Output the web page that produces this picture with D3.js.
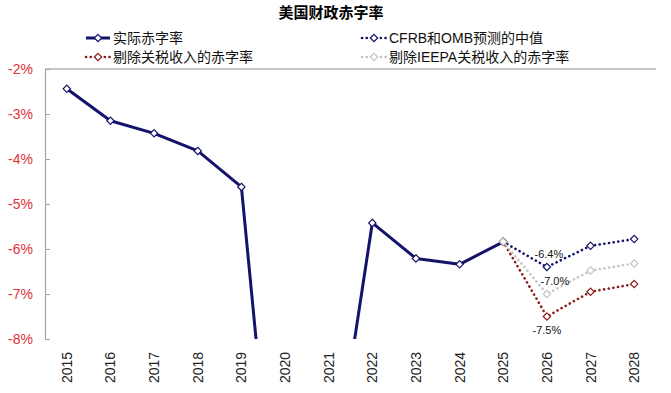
<!DOCTYPE html>
<html>
<head>
<meta charset="utf-8">
<script src="https://cdn.jsdelivr.net/npm/d3@7"></script>
<style>
  body { margin: 0; background: #fff; }
  svg { display: block; font-family: "Liberation Sans", Arial, "Noto Sans CJK SC", sans-serif; }
</style>
</head>
<body>
<svg id="chart" width="671" height="393"></svg>
<script>
// data (deficit as % of GDP)
const years = ['2015', '2016', '2017', '2018', '2019', '2020', '2021', '2022', '2023', '2024', '2025', '2026', '2027', '2028'];
const actual = [-2.44, -3.15, -3.43, -3.82, -4.62, -14.7, -11.8, -5.42, -6.21, -6.34, -5.84];
const forecastYears = ['2025', '2026', '2027', '2028'];
const cfrbOmb = [-5.84, -6.4, -5.93, -5.78];
const exTariff = [-5.84, -7.5, -6.95, -6.78];
const exIeepa = [-5.84, -7.0, -6.48, -6.32];
const yTicks = [-2, -3, -4, -5, -6, -7, -8];

const legendNames = ['实际赤字率', 'CFRB和OMB预测的中值', '剔除关税收入的赤字率', '剔除IEEPA关税收入的赤字率'];

const svg = d3.select('#chart');
const margin = { top: 69, right: 15, bottom: 54, left: 45 };
const width = 671, height = 393;

const x = d3.scaleBand()
  .domain(years)
  .range([margin.left, width - margin.right])
  .padding(0);
const y = d3.scaleLinear()
  .domain([-8, -2])
  .range([height - margin.bottom, margin.top]);

const cx = d => x(d) + x.bandwidth() / 2;

// title
svg.append('text')
  .attr('x', 331)
  .attr('y', 18)
  .attr('text-anchor', 'middle')
  .style('font-size', '15px')
  .style('font-weight', 'bold')
  .style('font-family', '"Noto Sans CJK SC", sans-serif')
  .text('美国财政赤字率');

// clip the plot area so 2020/2021 run off the bottom
svg.append('clipPath').attr('id', 'plot-clip')
  .append('rect')
  .attr('x', margin.left)
  .attr('y', margin.top - 10)
  .attr('width', width - margin.left - margin.right + 10)
  .attr('height', height - margin.top - margin.bottom + 10);

// top line (-2%)
svg.append('line')
  .attr('x1', margin.left).attr('x2', width - margin.right)
  .attr('y1', y(-2)).attr('y2', y(-2))
  .attr('stroke', '#8c8c8c').attr('stroke-width', 1.2);

// y axis
const yAxis = svg.append('g')
  .attr('transform', `translate(${margin.left},0)`)
  .call(d3.axisRight(y).tickValues(yTicks).tickSize(5).tickFormat(''));
yAxis.select('.domain').attr('stroke', '#a6a6a6').attr('stroke-width', 1.2);
yAxis.selectAll('.tick line').attr('stroke', '#a6a6a6');

svg.append('g').selectAll('text')
  .data(yTicks)
  .join('text')
  .attr('x', 33)
  .attr('y', d => y(d))
  .attr('dy', '0.36em')
  .attr('text-anchor', 'end')
  .attr('fill', '#e0303a')
  .style('font-size', '14px')
  .text(d => d + '%');

// x labels rotated
svg.append('g').selectAll('text')
  .data(years)
  .join('text')
  .attr('transform', d => `translate(${cx(d) + 5},${383}) rotate(-90)`)
  .attr('text-anchor', 'start')
  .attr('fill', '#222')
  .style('font-size', '14px')
  .text(d => d);

const plot = svg.append('g').attr('clip-path', 'url(#plot-clip)');

const series = [
  { name: legendNames[0], xs: years.slice(0, actual.length), vals: actual, color: '#13136b', dash: null, width: 3 },
  { name: legendNames[1], xs: forecastYears, vals: cfrbOmb, color: '#13136b', dash: '0.1 4.6', width: 2.6 },
  { name: legendNames[2], xs: forecastYears, vals: exTariff, color: '#8a1c1c', dash: '0.1 4.6', width: 2.6 },
  { name: legendNames[3], xs: forecastYears, vals: exIeepa, color: '#c4c4c4', dash: '0.1 4.6', width: 2.6 }
];

const line = d3.line()
  .x(d => cx(d[0]))
  .y(d => y(d[1]));

const diamond = d3.symbol().type(d3.symbolDiamond2).size(34);

series.forEach(s => {
  const pts = s.xs.map((yr, i) => [yr, s.vals[i]]);
  plot.append('path')
    .datum(pts)
    .attr('d', line)
    .attr('fill', 'none')
    .attr('stroke', s.color)
    .attr('stroke-width', s.width)
    .attr('stroke-linecap', s.dash ? 'round' : 'butt')
    .attr('stroke-linejoin', 'round')
    .attr('stroke-dasharray', s.dash);
  plot.append('g').selectAll('path')
    .data(pts.filter(d => d[1] >= -8))
    .join('path')
    .attr('transform', d => `translate(${cx(d[0])},${y(d[1])})`)
    .attr('d', diamond)
    .attr('fill', '#fff')
    .attr('stroke', s.color)
    .attr('stroke-width', 1.2);
});

// data labels on 2026
const fmt = d => d.toFixed(1) + '%';
const labels = [
  { v: cfrbOmb[1], dx: 2, dy: -9 },
  { v: exIeepa[1], dx: 8, dy: -9 },
  { v: exTariff[1], dx: 0, dy: 17 }
];
svg.append('g').selectAll('text')
  .data(labels)
  .join('text')
  .attr('x', d => cx('2026') + d.dx)
  .attr('y', d => y(d.v) + d.dy)
  .attr('text-anchor', 'middle')
  .attr('fill', '#111')
  .style('font-size', '11px')
  .text(d => fmt(d.v));

// legend
const legendPos = [[86, 38], [362, 38], [86, 57], [362, 57]];
series.forEach((s, i) => {
  const [lx, ly] = legendPos[i];
  const g = svg.append('g').attr('transform', `translate(${lx},${ly})`);
  g.append('line')
    .attr('x1', 0).attr('x2', 24)
    .attr('stroke', s.color)
    .attr('stroke-width', s.width)
    .attr('stroke-linecap', s.dash ? 'round' : 'butt')
    .attr('stroke-dasharray', s.dash);
  g.append('path')
    .attr('transform', 'translate(12,0)')
    .attr('d', diamond)
    .attr('fill', '#fff')
    .attr('stroke', s.color)
    .attr('stroke-width', 1.2);
  g.append('text')
    .attr('x', 27)
    .attr('dy', '0.36em')
    .attr('fill', '#111')
    .style('font-size', '14px')
    .text(s.name);
});
</script>
</body>
</html>
